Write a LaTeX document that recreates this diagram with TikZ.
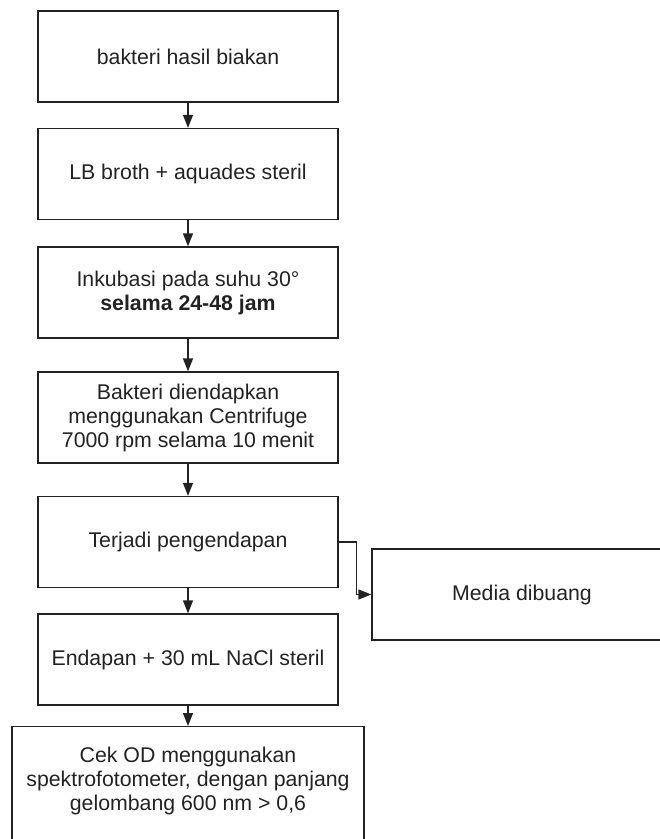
\documentclass[tikz,border=0pt]{standalone}
\usepackage{fontspec}
\setmainfont{Liberation Sans}
\usetikzlibrary{arrows.meta}
\definecolor{ink}{HTML}{222222}
\begin{document}
\begin{tikzpicture}[x=1pt,y=-1pt,
  box/.style={draw=ink, line width=1.3pt, rectangle, align=center, text=ink,
    font=\fontsize{21.3}{24}\selectfont, inner sep=0pt},
  flowbox/.style={box, minimum width=300pt, minimum height=91pt},
  arr/.style={draw=ink, line width=1.3pt, -{Triangle[length=13pt,width=10pt]}}
]
\useasboundingbox (0,0) rectangle (660,839);
\node[flowbox] (b1) at (188,56.5) {bakteri hasil biakan};
\node[flowbox] (b2) at (188,174) {LB broth + aquades steril};
\node[flowbox] (b3) at (188,292.5) {Inkubasi pada suhu 30°\\\textbf{selama 24-48 jam}};
\node[flowbox] (b4) at (188,417.5) {Bakteri diendapkan\\menggunakan Centrifuge\\7000 rpm selama 10 menit};
\node[flowbox] (b5) at (188,542) {Terjadi pengendapan};
\node[flowbox] (b6) at (188,659.5) {Endapan + 30 mL NaCl steril};
\node[flowbox] (media) at (522,594.5) {Media dibuang};
\node[box, minimum width=352pt, minimum height=124pt, anchor=north] (b7) at (188,726) {};
\node[box, draw=none] (b7t) at (188,781) {Cek OD menggunakan\\spektrofotometer, dengan panjang\\gelombang 600 nm > 0,6};
\draw[arr] (b1) -- (b2);
\draw[arr] (b2) -- (b3);
\draw[arr] (b3) -- (b4);
\draw[arr] (b4) -- (b5);
\draw[arr] (b5) -- (b6);
\draw[arr] (b6) -- (b7);
\draw[arr] (b5.east) -- ++(17.5,0) |- (media.west);
\end{tikzpicture}
\end{document}
